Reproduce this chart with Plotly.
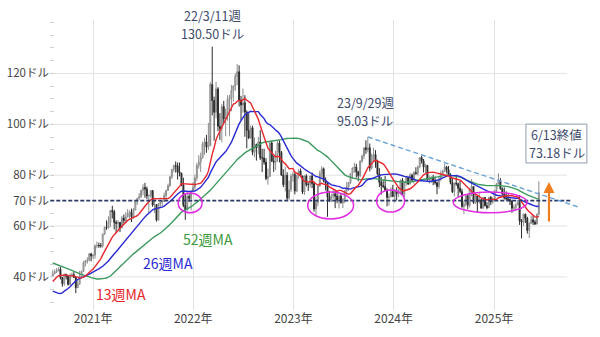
import pandas as pd
import plotly.graph_objects as go

# ---- weekly closes before the displayed period (used for moving averages) ----
pre_close = [54.87, 54.17, 55.10, 56.52, 54.85, 58.09, 55.91, 52.81, 54.70, 53.78,
             56.66, 56.20, 57.24, 57.72, 57.77, 55.17, 59.20, 60.07, 60.44, 61.72,
             63.05, 59.04, 58.54, 54.19, 51.56, 50.32, 52.05, 53.38, 44.76, 41.28,
             31.73, 22.43, 21.51, 28.34, 22.76, 18.27, 16.94, 19.78, 24.74, 29.43,
             33.25, 35.49, 39.55, 36.26, 39.75, 38.49, 40.65, 40.55, 40.59, 41.29, 40.27]

# ---- displayed weekly candles (week ending Friday), from 2020-08-07 ----
close_2020 = [41.22, 42.01, 42.34, 42.97, 39.77, 37.33, 41.11, 40.25, 37.05, 40.60, 40.88,
              39.85, 35.79, 37.14, 40.13, 42.15, 45.53, 46.26, 46.57, 49.10, 48.23, 48.52]
high_2020 = [42.69, 42.98, 43.43, 43.78, 44.00, 39.92, 41.28, 41.11, 40.72, 41.34, 41.77,
             41.99, 39.95, 39.04, 42.44, 42.50, 46.26, 46.68, 47.74, 49.28, 49.43, 48.96]
low_2020 = [40.02, 41.19, 41.54, 42.38, 39.00, 36.13, 36.50, 39.00, 36.63, 37.11, 39.76,
            39.60, 33.64, 35.65, 37.31, 40.00, 42.22, 44.11, 45.25, 46.15, 46.16, 47.05]

close_2021 = [52.24, 52.36, 52.27, 52.20, 56.85, 59.47, 59.24, 61.50, 66.09, 65.61, 61.42,
              60.97, 61.45, 59.32, 63.13, 62.14, 63.58, 64.90, 65.37, 63.58, 66.32, 69.62,
              70.91, 71.64, 74.05, 75.16, 74.56, 71.81, 72.07, 73.95, 68.28, 68.44, 62.32,
              68.74, 69.29, 69.72, 71.97, 73.98, 75.88, 79.35, 82.28, 83.76, 83.57, 81.27,
              80.79, 76.10, 68.15, 66.26, 71.67, 70.86, 73.79, 75.21]
high_2021 = [52.75, 53.93, 53.50, 53.33, 57.00, 59.82, 62.26, 63.81, 66.40, 67.98, 66.41,
             62.26, 62.34, 61.52, 64.04, 64.53, 65.47, 66.63, 66.21, 66.85, 67.13, 69.76,
             71.10, 72.99, 74.25, 76.40, 76.98, 75.52, 72.37, 74.11, 73.77, 70.03, 68.60,
             69.00, 69.83, 70.12, 73.15, 74.29, 76.67, 79.78, 82.41, 84.14, 85.41, 84.97,
             84.97, 80.97, 79.01, 72.66, 73.34, 72.72, 73.95, 77.24]
low_2021 = [47.18, 51.24, 51.42, 51.53, 51.47, 56.50, 58.50, 59.02, 59.66, 62.95, 58.68,
            57.26, 58.86, 57.63, 59.15, 60.99, 61.05, 63.46, 62.82, 61.56, 62.89, 66.17,
            68.31, 70.34, 71.01, 72.20, 71.14, 70.59, 65.01, 71.15, 67.58, 65.15, 61.74,
            62.38, 67.08, 67.58, 69.49, 70.05, 73.81, 75.33, 78.47, 81.27, 81.00, 78.25,
            79.51, 75.66, 67.40, 62.43, 68.08, 69.49, 66.12, 73.82]

close_2022 = [78.90, 83.82, 85.14, 86.82, 92.31, 93.10, 91.07, 91.59, 115.68, 109.33, 104.70,
              113.90, 99.27, 98.26, 106.95, 102.07, 104.69, 109.77, 110.49, 113.23, 115.07,
              118.87, 120.67, 109.56, 107.62, 108.43, 104.79, 97.59, 94.70, 98.62, 89.01,
              92.09, 90.77, 93.06, 86.87, 86.79, 85.11, 78.74, 79.49, 92.64, 85.61, 85.05,
              87.90, 92.61, 88.96, 80.08, 76.28, 79.98, 71.02, 74.29, 79.56, 80.26]
high_2022 = [80.24, 84.78, 87.91, 88.84, 93.17, 94.66, 95.82, 100.54, 116.57, 130.50, 110.88,
             116.64, 114.59, 104.37, 108.05, 109.20, 106.15, 111.37, 111.54, 115.44, 115.30,
             119.98, 123.68, 123.18, 111.16, 114.05, 111.45, 105.46, 104.41, 99.55, 99.44,
             94.88, 92.40, 95.09, 97.65, 90.38, 90.41, 86.66, 82.62, 92.94, 93.64, 87.72,
             89.56, 93.74, 93.74, 89.50, 82.34, 83.34, 81.19, 77.85, 80.54, 81.50]
low_2022 = [74.27, 77.77, 82.53, 81.23, 86.55, 88.04, 88.80, 89.91, 95.72, 103.52, 93.53,
            102.41, 97.33, 93.85, 92.93, 100.50, 95.28, 101.41, 95.52, 105.12, 108.93,
            113.21, 115.41, 106.98, 101.53, 104.56, 95.10, 90.56, 94.15, 94.35, 87.85,
            87.01, 85.73, 88.22, 85.98, 81.20, 84.12, 78.04, 76.25, 79.57, 85.12, 81.30,
            82.04, 85.23, 85.02, 79.70, 75.30, 73.60, 70.08, 70.31, 73.40, 77.41]

close_2023 = [73.77, 79.86, 81.64, 79.68, 73.39, 79.72, 76.34, 76.32, 79.68, 76.68, 66.74,
              69.26, 75.67, 80.70, 82.52, 77.87, 76.78, 71.34, 70.04, 71.69, 72.67, 71.74,
              70.17, 71.78, 69.16, 70.64, 73.86, 75.42, 77.07, 80.58, 82.82, 83.19, 81.25,
              79.83, 85.55, 87.51, 90.77, 90.03, 90.79, 82.79, 87.69, 88.08, 85.54, 80.51,
              77.17, 75.89, 75.54, 74.07, 71.23, 71.43, 73.56, 71.65]
high_2023 = [81.06, 80.09, 82.38, 82.66, 79.30, 80.04, 80.39, 77.17, 79.75, 81.04, 77.48,
             71.67, 75.72, 81.81, 83.53, 83.03, 79.13, 76.92, 73.83, 72.72, 74.73, 74.07,
             74.00, 72.42, 72.72, 70.91, 74.20, 77.35, 77.37, 80.85, 82.99, 84.89, 84.45,
             81.75, 85.83, 88.08, 90.90, 93.74, 95.03, 92.43, 88.50, 90.79, 89.85, 86.10,
             82.78, 79.19, 78.00, 79.67, 74.80, 72.84, 75.28, 76.18]
low_2023 = [72.46, 73.33, 78.58, 79.20, 72.60, 72.25, 75.56, 73.80, 75.08, 74.92, 65.65,
            64.12, 67.80, 78.88, 79.05, 77.14, 74.06, 63.64, 69.43, 69.39, 70.74, 67.03,
            68.98, 66.86, 68.84, 67.05, 69.03, 72.35, 73.83, 76.48, 78.84, 80.98, 79.01,
            77.59, 79.22, 84.82, 86.26, 88.35, 88.95, 81.50, 82.20, 85.39, 82.92, 79.88,
            75.33, 72.37, 74.90, 73.80, 67.71, 68.04, 71.63, 71.41]

close_2024 = [73.81, 72.68, 73.41, 78.01, 72.28, 76.84, 79.19, 76.49, 79.97, 78.01, 81.04,
              80.63, 83.17, 86.91, 85.66, 83.14, 83.85, 78.11, 78.26, 79.23, 77.72, 76.99,
              75.53, 78.45, 80.73, 81.54, 83.16, 82.21, 80.13, 77.16, 73.52, 76.84, 76.65,
              74.83, 73.55, 67.67, 68.65, 71.92, 68.18, 74.38, 75.56, 69.22, 71.78, 69.49,
              70.38, 67.02, 71.24, 68.00, 67.20, 71.29, 69.46, 70.60]
high_2024 = [74.36, 75.27, 74.81, 78.30, 78.88, 77.26, 79.33, 79.29, 80.85, 80.62, 81.62,
             83.12, 83.79, 87.12, 87.67, 86.36, 84.47, 83.59, 79.89, 79.54, 80.11, 79.45,
             77.53, 79.44, 81.83, 82.18, 84.52, 83.66, 83.58, 80.84, 78.77, 77.05, 80.16,
             77.10, 77.74, 74.67, 69.98, 72.33, 72.31, 74.99, 78.46, 74.66, 72.54, 71.80,
             72.89, 69.77, 71.37, 71.29, 69.44, 71.46, 71.81, 71.20]
low_2024 = [69.28, 70.13, 71.41, 72.38, 71.86, 71.41, 75.93, 76.19, 76.57, 77.46, 76.67,
            80.15, 79.90, 82.70, 84.55, 81.05, 80.70, 77.86, 76.67, 76.98, 76.04, 76.29,
            72.48, 74.66, 77.63, 80.02, 81.18, 80.70, 79.77, 76.40, 72.95, 71.67, 75.80,
            71.46, 72.86, 67.17, 64.75, 67.73, 66.66, 67.27, 71.63, 68.73, 68.68, 65.27,
            68.80, 66.94, 66.79, 67.71, 66.61, 67.24, 68.27, 68.79]

close_2025 = [73.96, 76.57, 77.88, 74.66, 72.53, 71.00, 70.74, 70.40, 69.76, 67.04, 67.18,
              68.28, 69.36, 61.99, 61.50, 64.68, 63.02, 58.29, 61.02, 62.49, 61.53, 60.79,
              64.58, 73.18]
high_2025 = [74.13, 76.98, 80.77, 78.85, 75.18, 75.18, 73.65, 72.88, 70.86, 70.35, 68.42,
             68.99, 70.21, 72.22, 62.76, 64.86, 64.87, 63.65, 61.48, 64.19, 64.20, 62.44,
             64.99, 77.62]
low_2025 = [70.49, 73.01, 77.01, 74.27, 72.02, 70.44, 70.11, 70.02, 68.27, 65.22, 65.66,
            66.08, 68.27, 60.45, 55.12, 60.05, 61.21, 57.02, 55.30, 60.83, 60.41, 60.38,
            60.65, 64.28]

y_tick_vals = [40, 60, 70, 80, 100, 120]
y_tick_text = ["40ドル", "60ドル", "70ドル", "80ドル", "100ドル", "120ドル"]
year_ticks = ["2021-01-01", "2022-01-01", "2023-01-01", "2024-01-01", "2025-01-01"]
year_text = ["2021年", "2022年", "2023年", "2024年", "2025年"]
grid_levels = [40, 60, 80, 100, 120]

# ---- assemble ----
close_disp = close_2020 + close_2021 + close_2022 + close_2023 + close_2024 + close_2025
high_disp = high_2020 + high_2021 + high_2022 + high_2023 + high_2024 + high_2025
low_disp = low_2020 + low_2021 + low_2022 + low_2023 + low_2024 + low_2025
n_pre = len(pre_close)
all_close = pd.Series(pre_close + close_disp)
open_all = all_close.shift(1)
dates = pd.date_range("2020-08-07", periods=len(close_disp), freq="W-FRI")

opens = open_all.iloc[n_pre:].values
ma13 = all_close.rolling(13).mean().iloc[n_pre:].values
ma26 = all_close.rolling(26).mean().iloc[n_pre:].values
ma52 = all_close.rolling(52).mean().iloc[n_pre:].values

fig = go.Figure()
fig.add_trace(go.Candlestick(
    x=dates, open=opens, high=high_disp, low=low_disp, close=close_disp,
    increasing=dict(line=dict(color="#8c8c8c", width=1), fillcolor="#d4d4d4"),
    decreasing=dict(line=dict(color="#2b2b2b", width=1), fillcolor="#2b2b2b"),
    whiskerwidth=0, hoverinfo="skip", showlegend=False))
for ma, col in [(ma52, "#3c9a5f"), (ma26, "#2a2ad4"), (ma13, "#e8262b")]:
    fig.add_trace(go.Scatter(x=dates, y=ma, mode="lines",
                             line=dict(color=col, width=1.4), hoverinfo="skip",
                             showlegend=False))

shapes = []
for g in grid_levels:
    shapes.append(dict(type="line", xref="x", yref="y", x0="2020-07-28", x1="2025-09-24",
                       y0=g, y1=g, line=dict(color="#e2e2e2", width=1), layer="below"))
# 70-dollar dashed support line
shapes.append(dict(type="line", xref="x", yref="y", x0="2020-07-29", x1="2025-10-12",
                   y0=70, y1=70, line=dict(color="#2b3a67", width=1.6, dash="4px,2px")))
# descending trend line from 23/9/29 high
shapes.append(dict(type="line", xref="x", yref="y", x0="2023-09-29", y0=95.03,
                   x1="2025-11-03", y1=67.5,
                   line=dict(color="#6aa3d8", width=1.4, dash="5px,3px")))
# ellipses
for (xa, xb, ya, yb) in [("2021-11-07", "2022-02-02", 65.2, 73.0),
                         ("2023-02-22", "2023-08-08", 62.8, 73.4),
                         ("2023-10-31", "2024-02-10", 65.5, 74.2),
                         ("2024-08-05", "2025-05-01", 65.2, 73.4)]:
    shapes.append(dict(type="circle", xref="x", yref="y", x0=xa, x1=xb, y0=ya, y1=yb,
                       line=dict(color="#e22be2", width=1.5)))
# box around latest close note
shapes.append(dict(type="rect", xref="paper", yref="paper", x0=0.898, x1=1.013,
                   y0=0.507, y1=0.641, line=dict(color="#8e9bb0", width=1),
                   fillcolor="white", layer="above"))

FONT = "Noto Sans CJK JP"
TXT = "#3d4a6b"


def note(x, y, text, xref="x", yref="y", size=12.5, color=TXT):
    return dict(x=x, y=y, xref=xref, yref=yref, text=text, showarrow=False,
                xanchor="center", yanchor="middle",
                font=dict(family=FONT, size=size, color=color))


annotations = [
    note(0.3075, 1.0138, "22/3/11週", xref="paper", yref="paper"),
    note(0.3075, 0.952, "130.50ドル", xref="paper", yref="paper"),
    note("2023-09-19", 108.4, "23/9/29週"),
    note("2023-09-19", 101.3, "95.03ドル"),
    note(0.956, 0.606, "6/13終値", xref="paper", yref="paper"),
    note(0.956, 0.543, "73.18ドル", xref="paper", yref="paper"),
    note("2022-02-24", 54.9, "52週MA", size=14, color="#3c9a3c"),
    note("2021-10-01", 45.5, "26週MA", size=14, color="#2a2ad4"),
    note("2021-04-13", 33.3, "13週MA", size=14, color="#e8262b"),
    dict(x="2025-07-20", y=77.3, ax="2025-07-20", ay=61.2, xref="x", yref="y",
         axref="x", ayref="y", text="", showarrow=True, arrowhead=2, arrowsize=1,
         arrowwidth=2.2, arrowcolor="#f07d1e"),
]

fig.update_layout(
    width=600, height=337,
    margin=dict(l=50, r=20, t=20, b=27),
    paper_bgcolor="white", plot_bgcolor="white",
    showlegend=False,
    font=dict(family=FONT, size=12, color="#444"),
    shapes=shapes, annotations=annotations,
    xaxis=dict(type="date", range=["2020-07-28", "2025-11-10"],
               tickvals=year_ticks, ticktext=year_text, automargin=False,
               showgrid=True, gridcolor="#e2e2e2", gridwidth=1,
               zeroline=False, showline=False, ticks="",
               rangeslider=dict(visible=False),
               tickfont=dict(family=FONT, size=12, color="#444")),
    yaxis=dict(range=[27, 141], tickvals=y_tick_vals, ticktext=y_tick_text,
               automargin=False,
               showgrid=False, zeroline=False, showline=False, ticks="",
               tickfont=dict(family=FONT, size=11.5, color="#444"),
               minor=dict(dtick=5, tick0=0, ticks="inside", ticklen=4,
                          tickcolor="#d0d0d0", showgrid=False)),
)

fig.write_html("out.html")
